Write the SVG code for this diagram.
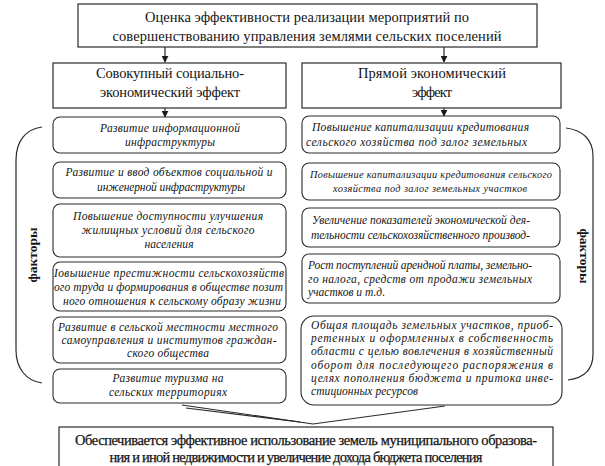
<svg xmlns="http://www.w3.org/2000/svg" width="605" height="466" viewBox="0 0 605 466">
<style>
.bx{fill:#fff;stroke:#2a2a2a;stroke-width:1.2}
.rb{fill:#fff;stroke:#2a2a2a;stroke-width:1.1}
.ln{fill:none;stroke:#2a2a2a;stroke-width:1.2}
.t{font-family:"Liberation Serif","DejaVu Serif","Times New Roman",serif;fill:#151515}
.h{font-size:14.5px}
.h2{font-size:14.5px}
.i{font-size:11.5px;font-style:italic}
.s{font-size:10.3px;font-style:italic}
.b{font-size:14.5px;stroke:#151515;stroke-width:0.25}
.f{font-size:13.5px;font-weight:bold}
</style>
<defs>
<marker id="ar" viewBox="0 0 10 10" refX="9" refY="5" markerWidth="7" markerHeight="7" orient="auto" markerUnits="userSpaceOnUse">
<path d="M0,0 L10,5 L0,10 z" fill="#1a1a1a"/>
</marker>
</defs>
<rect width="605" height="466" fill="#fff"/>
<g id="connectors">
<line class="ln" x1="165" y1="47" x2="165" y2="62" marker-end="url(#ar)"/>
<line class="ln" x1="444" y1="47" x2="444" y2="62" marker-end="url(#ar)"/>
<line class="ln" x1="165" y1="108" x2="165" y2="117" marker-end="url(#ar)"/>
<line class="ln" x1="444" y1="108" x2="444" y2="116" marker-end="url(#ar)"/>
<path class="ln" d="M42,127 C26,129 16,141 16,160 L16,350 C16,368 26,381 42,383"/>
<path class="ln" d="M566,128 C583,130 593,140 593,156 L593,354 C593,370 584,378 568,380"/>
<path class="ln" d="M182,405 L313,424 L445,406"/>
<path class="ln" d="M186,408 L300,422" stroke-width="0.8"/>
</g>
<g id="title">
<rect class="bx" x="78" y="4" width="459" height="43"/>
<text class="t h" x="307" y="22" text-anchor="middle" textLength="324">Оценка эффективности реализации мероприятий по</text>
<text class="t h" x="307" y="41" text-anchor="middle" textLength="389">совершенствованию управления землями сельских поселений</text>
</g>
<g id="social">
<rect class="bx" x="53" y="63" width="233" height="45"/>
<text class="t h2" x="170" y="78" text-anchor="middle" textLength="148">Совокупный социально-</text>
<text class="t h2" x="170" y="97" text-anchor="middle" textLength="140">экономический эффект</text>
</g>
<g id="direct">
<rect class="bx" x="302" y="63" width="259" height="45"/>
<text class="t h2" x="432" y="78" text-anchor="middle" textLength="148">Прямой экономический</text>
<text class="t h2" x="432" y="97" text-anchor="middle" textLength="40">эффект</text>
</g>
<g id="l1">
<rect class="rb" x="53" y="117" width="233" height="36" rx="7"/>
<text class="t i" x="170" y="132" text-anchor="middle" textLength="140">Развитие информационной</text>
<text class="t i" x="170" y="146" text-anchor="middle" textLength="90">инфраструктуры</text>
</g>
<g id="l2">
<rect class="rb" x="53" y="162" width="233" height="36" rx="7"/>
<text class="t i" x="169" y="176" text-anchor="middle" textLength="207">Развитие и ввод объектов социальной и</text>
<text class="t i" x="171" y="191" text-anchor="middle" textLength="148">инженерной инфраструктуры</text>
</g>
<g id="l3">
<rect class="rb" x="53" y="204" width="233" height="53" rx="7"/>
<text class="t i" x="168" y="220" text-anchor="middle" textLength="190">Повышение доступности улучшения</text>
<text class="t i" x="168" y="234" text-anchor="middle" textLength="173">жилищных условий для сельского</text>
<text class="t i" x="169" y="248" text-anchor="middle" textLength="49">населения</text>
</g>
<g id="l4">
<rect class="rb" x="53" y="262" width="233" height="49" rx="7"/>
<text class="t i" x="54" y="277" textLength="230">Іовышение престижности сельскохозяйств</text>
<text class="t i" x="54" y="291" textLength="229">ого труда и формирования в обществе позит</text>
<text class="t i" x="63" y="305" textLength="218">ного отношения к сельскому образу жизни</text>
</g>
<g id="l5">
<rect class="rb" x="53" y="317" width="233" height="46" rx="7"/>
<text class="t i" x="168" y="331" text-anchor="middle" textLength="220">Развитие в сельской местности местного</text>
<text class="t i" x="169" y="344" text-anchor="middle" textLength="215">самоуправления и институтов граждан-</text>
<text class="t i" x="168" y="357" text-anchor="middle" textLength="82">ского общества</text>
</g>
<g id="l6">
<rect class="rb" x="53" y="369" width="233" height="34" rx="7"/>
<text class="t i" x="168" y="382" text-anchor="middle" textLength="111">Развитие туризма на</text>
<text class="t i" x="168" y="396" text-anchor="middle" textLength="118">сельских территориях</text>
</g>
<g id="r1">
<rect class="rb" x="302" y="116" width="258" height="37" rx="7"/>
<text class="t i" x="312" y="131" textLength="217">Повышение капитализации кредитования</text>
<text class="t i" x="306" y="146" textLength="221">сельского хозяйства под залог  земельных</text>
</g>
<g id="r2">
<rect class="rb" x="302" y="163" width="258" height="37" rx="7"/>
<text class="t s" x="310" y="178" textLength="242">Повышение капитализации кредитования сельского</text>
<text class="t s" x="333" y="192" textLength="194">хозяйства под залог  земельных участков</text>
</g>
<g id="r3">
<rect class="rb" x="302" y="208" width="258" height="39" rx="7"/>
<text class="t i" x="312" y="224" textLength="218">Увеличение показателей экономической дея-</text>
<text class="t i" x="311" y="239" textLength="219">тельности сельскохозяйственного производ-</text>
</g>
<g id="r4">
<rect class="rb" x="302" y="254" width="258" height="49" rx="7"/>
<text class="t i" x="308" y="269" textLength="224">Рост поступлений арендной платы, земельно-</text>
<text class="t i" x="308" y="283" textLength="224">го налога, средств от продажи земельных</text>
<text class="t i" x="308" y="296" textLength="77">участков и т.д.</text>
</g>
<g id="r5">
<rect class="rb" x="301" y="316" width="261" height="89" rx="13"/>
<text class="t i" x="311" y="329" textLength="242">Общая площадь земельных участков, приоб-</text>
<text class="t i" x="311" y="342" textLength="242">ретенных и оформленных в собственность</text>
<text class="t i" x="311" y="355" textLength="242">области с целью вовлечения в хозяйственный</text>
<text class="t i" x="311" y="369" textLength="242">оборот для последующего распоряжения в</text>
<text class="t i" x="311" y="382" textLength="242">целях пополнения бюджета и притока инве-</text>
<text class="t i" x="311" y="395" textLength="107">стиционных ресурсов</text>
</g>
<g id="factors-left">
<text class="t f" transform="translate(37,255) rotate(-90)" text-anchor="middle">факторы</text>
</g>
<g id="factors-right">
<text class="t f" transform="translate(580,256) rotate(90)" text-anchor="middle">факторы</text>
</g>
<g id="result">
<rect class="bx" x="59" y="427" width="494" height="45"/>
<text class="t b" x="306" y="445" text-anchor="middle" textLength="462">Обеспечивается эффективное использование земель муниципального образова-</text>
<text class="t b" x="296" y="462" text-anchor="middle" textLength="373">ния и иной недвижимости и увеличение дохода бюджета поселения</text>
</g>
</svg>
